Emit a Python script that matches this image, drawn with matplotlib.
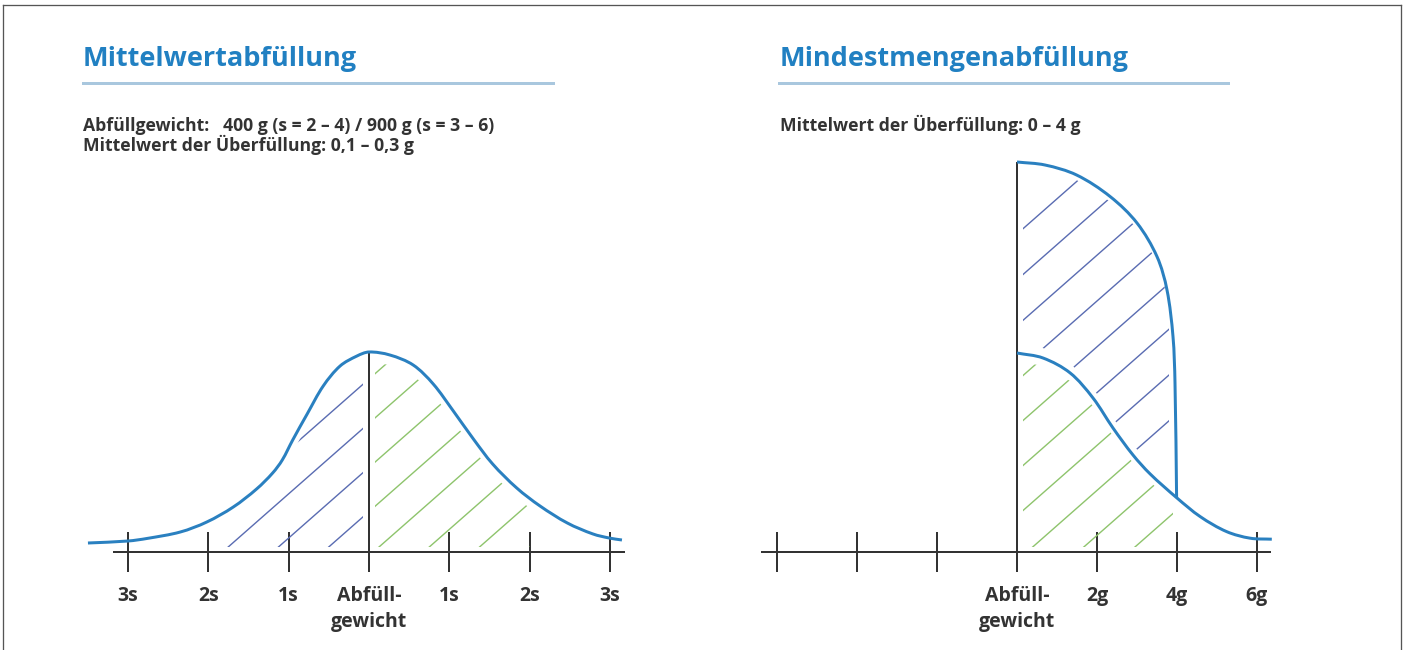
import numpy as np
import matplotlib
matplotlib.use("Agg")
import matplotlib.pyplot as plt
from matplotlib.path import Path
from matplotlib.patches import PathPatch, Polygon
from matplotlib.lines import Line2D

plt.rcParams['font.family'] = ['Open Sans', 'DejaVu Sans']

# ---------------- data ----------------
# left panel: distribution around the fill weight, x in s (std. dev.), y relative height
mean_x = [-3.50, -3.00, -2.76, -2.35, -2.02, -1.69, -1.40, -1.20, -1.08, -0.95, -0.77,
          -0.57, -0.36, -0.15, 0.00, 0.26, 0.55, 0.80, 1.05, 1.30, 1.54, 1.84, 2.13,
          2.47, 2.79, 2.99, 3.15]
mean_y = [0.045, 0.055, 0.068, 0.100, 0.150, 0.225, 0.315, 0.395, 0.460, 0.560, 0.690,
          0.830, 0.930, 0.980, 1.000, 0.985, 0.935, 0.840, 0.705, 0.565, 0.440, 0.320,
          0.230, 0.145, 0.090, 0.070, 0.060]
mean_ticks = [-3, -2, -1, 0, 1, 2, 3]
mean_labels = ['3s', '2s', '1s', 'Abfüll-\ngewicht', '1s', '2s', '3s']

# right panel: x in g above the fill weight
upper_x = [0.00, 0.70, 1.49, 2.33, 3.00, 3.50, 3.75, 3.90, 3.95, 3.99]
upper_y = [1.950, 1.935, 1.885, 1.777, 1.645, 1.477, 1.310, 1.077, 0.845, 0.270]
lower_x = [0.00, 0.65, 1.33, 1.90, 2.40, 2.90, 3.33, 4.00, 4.58, 5.24, 5.83, 6.37]
lower_y = [0.995, 0.970, 0.895, 0.770, 0.620, 0.485, 0.390, 0.270, 0.177, 0.102, 0.069, 0.064]
min_ticks = [-6, -4, -2, 0, 2, 4, 6]
min_labels = ['', '', '', 'Abfüll-\ngewicht', '2g', '4g', '6g']

title_left = 'Mittelwertabfüllung'
title_right = 'Mindestmengenabfüllung'
info_left = ['Abfüllgewicht:   400 g (s = 2 – 4) / 900 g (s = 3 – 6)',
             'Mittelwert der Überfüllung: 0,1 – 0,3 g']
info_right = ['Mittelwert der Überfüllung: 0 – 4 g']

# ---------------- style ----------------
W, H = 1405, 650
CURVE = '#2a80c0'
AXC = '#333333'
BLUE_H = '#5a6cb2'
GREEN_H = '#8ec46c'
TITLE_C = '#2180c2'
RULE_C = '#a9c7de'
TXT = '#333333'
PX = 72 / 100  # points per pixel
YUNIT = 200

fig = plt.figure(figsize=(W / 100, H / 100), dpi=100)


def make_axes(px_left, px_right, px_top, px_bottom, x0_px, unit_px, y0_px=552):
    ax = fig.add_axes([px_left / W, 1 - px_bottom / H, (px_right - px_left) / W,
                       (px_bottom - px_top) / H])
    ax.set_xlim((px_left - x0_px) / unit_px, (px_right - x0_px) / unit_px)
    ax.set_ylim((y0_px - px_bottom) / YUNIT, (y0_px - px_top) / YUNIT)
    ax.patch.set_alpha(0)
    for s in ['left', 'right', 'top']:
        ax.spines[s].set_visible(False)
    ax.spines['bottom'].set_position(('data', 0))
    ax.spines['bottom'].set_color(AXC)
    ax.spines['bottom'].set_linewidth(2 * PX)
    ax.set_yticks([])
    ax.tick_params(axis='x', direction='inout', length=40 * PX, width=2 * PX, color=AXC,
                   labelsize=14, labelcolor=TXT, pad=10)
    return ax


def smooth_path(xs, ys, xunit):
    # chord-length Catmull-Rom spline through the read points, drawn as cubic Beziers
    p = np.column_stack([xs, ys]).astype(float)
    scale = np.array([xunit, YUNIT], float)
    q = p * scale
    n = len(q)
    t = np.concatenate([[0], np.cumsum(np.hypot(*np.diff(q, axis=0).T))])
    tang = np.zeros_like(q)
    for i in range(n):
        a, b = max(i - 1, 0), min(i + 1, n - 1)
        tang[i] = (q[b] - q[a]) / (t[b] - t[a])
    verts = [q[0]]
    codes = [Path.MOVETO]
    for i in range(n - 1):
        d = (t[i + 1] - t[i]) / 3
        verts += [q[i] + tang[i] * d, q[i + 1] - tang[i + 1] * d, q[i + 1]]
        codes += [Path.CURVE4] * 3
    return Path(np.array(verts) / scale, codes)


def draw_curve(ax, xs, ys, xunit):
    ax.add_patch(PathPatch(smooth_path(xs, ys, xunit), facecolor='none', edgecolor=CURVE,
                           lw=3 * PX, capstyle='butt', joinstyle='round', zorder=5))


def hatch(ax, x0, x1, top_x, top_y, top_gap, bot_x, bot_y, bot_gap, slope, offsets, color):
    g = np.linspace(x0, x1, 300)
    bot = np.interp(g, bot_x, bot_y) + bot_gap
    top = np.maximum(np.interp(g, top_x, top_y) - top_gap, bot)
    poly = Polygon(np.vstack([np.column_stack([g, top]), np.column_stack([g[::-1], bot[::-1]])]),
                   closed=True, facecolor='none', edgecolor='none', transform=ax.transData)
    ax.add_patch(poly)
    xl = np.array([x0 - 1, x1 + 1])
    for c in offsets:
        ln, = ax.plot(xl, slope * xl + c, color=color, lw=1.4 * PX, solid_capstyle='butt', zorder=2)
        ln.set_clip_path(poly)


# ---------------- left panel ----------------
UL = 80.3
axL = make_axes(60, 640, 160, 640, 369, UL)
axL.spines['bottom'].set_bounds(-3.18, 3.18)
axL.set_xticks(mean_ticks)
axL.set_xticklabels(mean_labels, fontweight='bold', linespacing=1.4)
peak = mean_y[mean_x.index(0.0)]
axL.vlines(0, 0, peak, color=AXC, lw=2 * PX, zorder=4)
draw_curve(axL, mean_x, mean_y, UL)
offs_left = [0.865 - 0.221 * k for k in range(10)]
hatch(axL, -1.8, -0.075, mean_x, mean_y, 0.06, [-9, 9], [0, 0], 0.025, 0.353, offs_left, BLUE_H)
hatch(axL, 0.075, 2.0, mean_x, mean_y, 0.05, [-9, 9], [0, 0], 0.025, 0.353, offs_left, GREEN_H)

# ---------------- right panel ----------------
UR = 40
axR = make_axes(740, 1300, 140, 640, 1017, UR)
axR.spines['bottom'].set_bounds(-6.38, 6.33)
axR.set_xticks(min_ticks)
axR.set_xticklabels(min_labels, fontweight='bold', linespacing=1.4)
axR.vlines(0, 0, upper_y[0], color=AXC, lw=2 * PX, zorder=4)
draw_curve(axR, upper_x, upper_y, UR)
draw_curve(axR, lower_x, lower_y, UR)
offs_blue = [1.59 - 0.229 * k for k in range(8)]
offs_green = [0.856 - 0.225 * k for k in range(9)]
hatch(axR, 0.15, 3.8, upper_x, upper_y, 0.025, lower_x, lower_y, 0.05, 0.176, offs_blue, BLUE_H)
hatch(axR, 0.15, 3.9, lower_x, lower_y, 0.04, [-9, 9], [0, 0], 0.025, 0.176, offs_green, GREEN_H)

# ---------------- headings ----------------
def ftext(xp, yp, s, **kw):
    fig.text(xp / W, 1 - yp / H, s, **kw)


ftext(83, 66, title_left, fontsize=19.5, fontweight='bold', color=TITLE_C, va='baseline')
ftext(780, 66, title_right, fontsize=19.5, fontweight='bold', color=TITLE_C, va='baseline')
fig.add_artist(Line2D([83 / W, 553 / W], [1 - 82.7 / H] * 2, color=RULE_C, lw=3 * PX))
fig.add_artist(Line2D([779 / W, 1228 / W], [1 - 82.7 / H] * 2, color=RULE_C, lw=3 * PX))
for i, s in enumerate(info_left):
    ftext(83, 131 + 20 * i, s, fontsize=12.7, fontweight='bold', color=TXT, va='baseline')
for i, s in enumerate(info_right):
    ftext(780, 131 + 20 * i, s, fontsize=12.7, fontweight='bold', color=TXT, va='baseline')

# frame
for xs, ys in [([3, 3], [5, 650]), ([3, 1401], [5, 5]), ([1401, 1401], [5, 650])]:
    fig.add_artist(Line2D([x / W for x in xs], [1 - y / H for y in ys], color='#555555', lw=1.3 * PX))

fig.savefig('out.png', dpi=100)
